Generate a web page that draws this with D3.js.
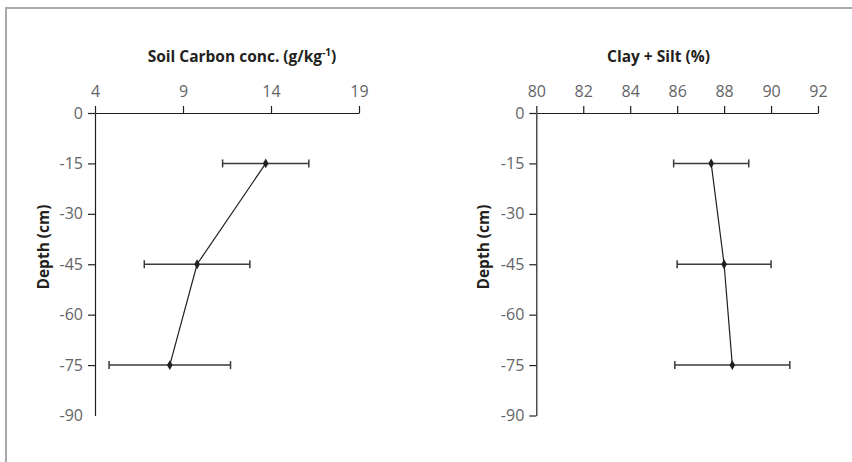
<!DOCTYPE html>
<html>
<head>
<meta charset="utf-8">
<script src="https://cdn.jsdelivr.net/npm/d3@7"></script>
<style>
  html, body { margin: 0; padding: 0; background: #fff; }
  svg { display: block; }
  .tick text { font-family: "Open Sans", "Noto Sans", sans-serif; font-size: 16px; fill: #636466; }
  .title { font-family: "Open Sans", "Noto Sans", sans-serif; font-weight: 700; fill: #231f20; }
</style>
</head>
<body>
<svg id="chart" width="852" height="462"></svg>
<script>
// Depth profile data
const depths = [-15, -45, -75];
const carbonMean = [13.7, 9.8, 8.25];
const carbonErr = [2.45, 3.0, 3.45];
const claySiltMean = [87.45, 88.0, 88.35];
const claySiltErr = [1.6, 2.0, 2.45];

// Axis ticks
const depthTicks = [0, -15, -30, -45, -60, -75, -90];
const carbonTicks = [4, 9, 14, 19];
const claySiltTicks = [80, 82, 84, 86, 88, 90, 92];

const svg = d3.select("#chart");

// Outer frame: top and left rules
svg.append("path")
  .attr("d", "M6,462 L6,8 L852,8")
  .attr("fill", "none")
  .attr("stroke", "#a7a9ac")
  .attr("stroke-width", 2);

const ink = "#231f20";
const plain = d => String(d);   // ASCII hyphen for negatives

function panel(opts) {
  const x = d3.scaleLinear().domain(opts.xDomain).range(opts.xRange);
  const y = d3.scaleLinear().domain([0, -90]).range([113, 415.5]);
  const g = svg.append("g");

  // Top x axis
  const xAxis = d3.axisTop(x).tickValues(opts.xTicks).tickFormat(plain)
    .tickSize(7).tickSizeOuter(0).tickPadding(9);
  const gx = g.append("g").attr("transform", "translate(0,113)").call(xAxis);
  gx.select(".domain").attr("stroke", ink).attr("stroke-width", 1.2);
  gx.selectAll(".tick line").attr("stroke", ink).attr("stroke-width", 1.2);

  // Left depth axis
  const x0 = opts.xRange[0];
  const yAxis = d3.axisLeft(y).tickValues(depthTicks).tickFormat(plain)
    .tickSize(7).tickSizeOuter(0).tickPadding(5);
  const gy = g.append("g").attr("transform", `translate(${x0},0)`).call(yAxis);
  gy.select(".domain").attr("stroke", ink).attr("stroke-width", 1.2);
  gy.selectAll(".tick line").attr("stroke", ink).attr("stroke-width", 1.2);
  if (opts.hideBottomTick) {
    gy.selectAll(".tick").filter(d => d === -90).select("line").remove();
  }

  // Panel title
  g.append("text").attr("class", "title")
    .attr("x", opts.titleX).attr("y", 62)
    .attr("text-anchor", "middle")
    .attr("font-size", 15.5)
    .call(opts.titleFn);

  // Depth title
  g.append("text").attr("class", "title")
    .attr("transform", `translate(${opts.depthX},247) rotate(-90)`)
    .attr("text-anchor", "middle")
    .attr("font-size", 15.5)
    .text("Depth (cm)");

  const rows = depths.map((d, i) => ({ depth: d, mean: opts.mean[i], err: opts.err[i] }));

  // Error bars
  const eb = g.append("g").attr("stroke", "#3a3a3a").attr("stroke-width", 1.5).attr("fill", "none");
  rows.forEach(r => {
    const yy = y(r.depth);
    const xl = x(r.mean - r.err), xr = x(r.mean + r.err);
    eb.append("line").attr("x1", xl).attr("x2", xr).attr("y1", yy).attr("y2", yy);
    eb.append("line").attr("x1", xl).attr("x2", xl).attr("y1", yy - 4).attr("y2", yy + 4);
    eb.append("line").attr("x1", xr).attr("x2", xr).attr("y1", yy - 4).attr("y2", yy + 4);
  });

  // Profile line
  g.append("path")
    .datum(rows)
    .attr("fill", "none")
    .attr("stroke", ink)
    .attr("stroke-width", 1.2)
    .attr("d", d3.line().x(r => x(r.mean)).y(r => y(r.depth)));

  // Diamond markers
  g.selectAll(".pt").data(rows).join("path")
    .attr("class", "pt")
    .attr("transform", r => `translate(${x(r.mean)},${y(r.depth)})`)
    .attr("d", d3.symbol().type(d3.symbolDiamond).size(28))
    .attr("fill", ink);
}

panel({
  xDomain: [4, 19], xRange: [95, 359], xTicks: carbonTicks,
  mean: carbonMean, err: carbonErr,
  titleX: 242, depthX: 49, hideBottomTick: true,
  titleFn: t => {
    t.append("tspan").text("Soil Carbon conc. (g/kg");
    t.append("tspan").attr("dy", -6).attr("font-size", 10).text("-1");
    t.append("tspan").attr("dy", 6).text(")");
  }
});

panel({
  xDomain: [80, 92], xRange: [536.3, 818], xTicks: claySiltTicks,
  mean: claySiltMean, err: claySiltErr,
  titleX: 658.5, depthX: 489, hideBottomTick: false,
  titleFn: t => t.text("Clay + Silt (%)")
});
</script>
</body>
</html>
